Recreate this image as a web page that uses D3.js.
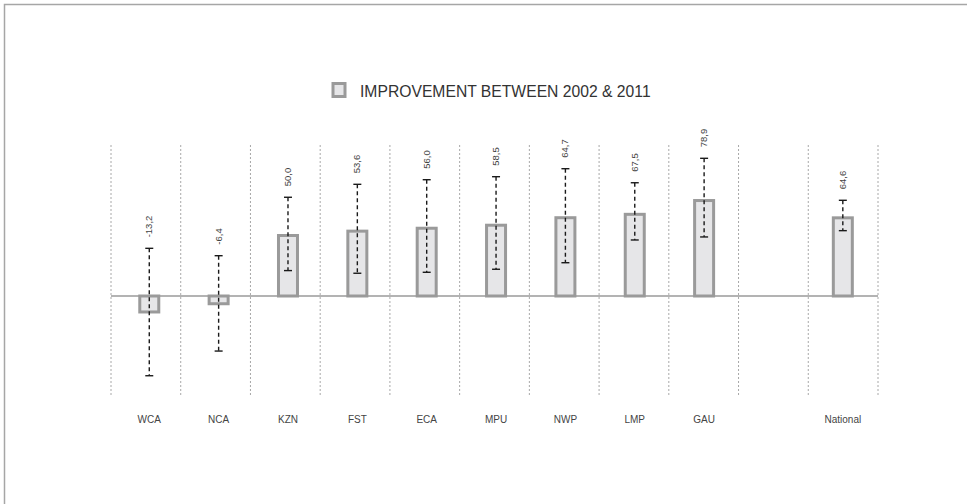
<!DOCTYPE html>
<html>
<head>
<meta charset="utf-8">
<script src="https://cdn.jsdelivr.net/npm/d3@7"></script>
<style>
  html, body { margin: 0; padding: 0; background: #fff; }
  svg { display: block; }
</style>
</head>
<body>
<svg id="chart" width="967" height="504"></svg>
<script>
// ---- data ----
const categories = ["WCA", "NCA", "KZN", "FST", "ECA", "MPU", "NWP", "LMP", "GAU", "", "National"];
const improvement = [-13.2, -6.4, 50.0, 53.6, 56.0, 58.5, 64.7, 67.5, 78.9, null, 64.6];
const valueLabels = ["-13,2", "-6,4", "50,0", "53,6", "56,0", "58,5", "64,7", "67,5", "78,9", "", "64,6"];
const errLow  = [-65.9, -45.5, 21.0, 18.8, 19.6, 22.1, 27.5, 46.3, 48.8, null, 54.0];
const errHigh = [ 39.4,  33.3, 81.6, 92.3, 96.1, 98.6, 105.2, 93.6, 113.8, null, 79.1];
const legendLabel = "IMPROVEMENT BETWEEN 2002 & 2011";

// ---- layout ----
const svg = d3.select("#chart");
const W = 967, H = 504;
const barFill = "#e6e6e8", barStroke = "#9a9a9a";

// frame
svg.append("path")
  .attr("d", `M4.5,${H} L4.5,4.5 L${W},4.5`)
  .attr("fill", "none").attr("stroke", "#a6a6a6").attr("stroke-width", 1.5);

const y = d3.scaleLinear().domain([0, 100]).range([296, 296 - 121]);
const xGrid = d3.scaleBand().domain(d3.range(categories.length)).range([111, 878]).padding(0);
const xBar = d3.scaleBand().domain(d3.range(categories.length)).range([114.6, 877.5]).padding(0);
const barW = 19;

// vertical dotted gridlines
const gridXs = d3.range(categories.length + 1).map(i => i < categories.length ? xGrid(i) : xGrid.range()[1]);
svg.append("g").selectAll("line").data(gridXs).join("line")
  .attr("x1", d => d).attr("x2", d => d)
  .attr("y1", 145).attr("y2", 395)
  .attr("stroke", "#a8a8a8").attr("stroke-width", 1)
  .attr("stroke-dasharray", "2,2");

// baseline
svg.append("line")
  .attr("x1", 111).attr("x2", 878)
  .attr("y1", y(0)).attr("y2", y(0))
  .attr("stroke", "#9a9a9a").attr("stroke-width", 1.5);

const idx = d3.range(categories.length).filter(i => improvement[i] !== null);
const cx = i => xBar(i) + xBar.bandwidth() / 2;

// bars
svg.append("g").selectAll("rect").data(idx).join("rect")
  .attr("x", i => cx(i) - barW / 2)
  .attr("width", barW)
  .attr("y", i => y(Math.max(0, improvement[i])))
  .attr("height", i => Math.abs(y(improvement[i]) - y(0)))
  .attr("fill", barFill).attr("stroke", barStroke).attr("stroke-width", 3);

// error bars
const eg = svg.append("g");
eg.selectAll("line.v").data(idx).join("line").attr("class", "v")
  .attr("x1", cx).attr("x2", cx)
  .attr("y1", i => y(errHigh[i])).attr("y2", i => y(errLow[i]))
  .attr("stroke", "#1a1a1a").attr("stroke-width", 1.4).attr("stroke-dasharray", "4,3");
const capW = 8;
eg.selectAll("line.top").data(idx).join("line").attr("class", "top")
  .attr("x1", i => cx(i) - capW / 2).attr("x2", i => cx(i) + capW / 2)
  .attr("y1", i => y(errHigh[i])).attr("y2", i => y(errHigh[i]))
  .attr("stroke", "#1a1a1a").attr("stroke-width", 1.4);
eg.selectAll("line.bot").data(idx).join("line").attr("class", "bot")
  .attr("x1", i => cx(i) - capW / 2).attr("x2", i => cx(i) + capW / 2)
  .attr("y1", i => y(errLow[i])).attr("y2", i => y(errLow[i]))
  .attr("stroke", "#1a1a1a").attr("stroke-width", 1.4);

// value labels (rotated)
svg.append("g").selectAll("text").data(idx).join("text")
  .attr("transform", i => `translate(${cx(i) + 3},${y(errHigh[i]) - 11}) rotate(-90)`)
  .attr("text-anchor", "start")
  .attr("font-family", "'Liberation Sans Narrow', 'Liberation Sans', Arial, sans-serif")
  .attr("font-size", 9.5).attr("fill", "#444")
  .text(i => valueLabels[i]);

// category labels
svg.append("g").selectAll("text").data(idx).join("text")
  .attr("x", cx).attr("y", 423)
  .attr("text-anchor", "middle")
  .attr("font-family", "'Liberation Sans Narrow', 'Liberation Sans', Arial, sans-serif")
  .attr("font-size", 10).attr("fill", "#444")
  .text(i => categories[i]);

// legend
const lg = svg.append("g");
lg.append("rect").attr("x", 333).attr("y", 83.5).attr("width", 12).attr("height", 13)
  .attr("fill", barFill).attr("stroke", barStroke).attr("stroke-width", 3);
lg.append("text").attr("x", 360).attr("y", 97)
  .attr("font-family", "'Liberation Sans', Arial, sans-serif")
  .attr("font-size", 15.7).attr("fill", "#333")
  .text(legendLabel);
</script>
</body>
</html>
